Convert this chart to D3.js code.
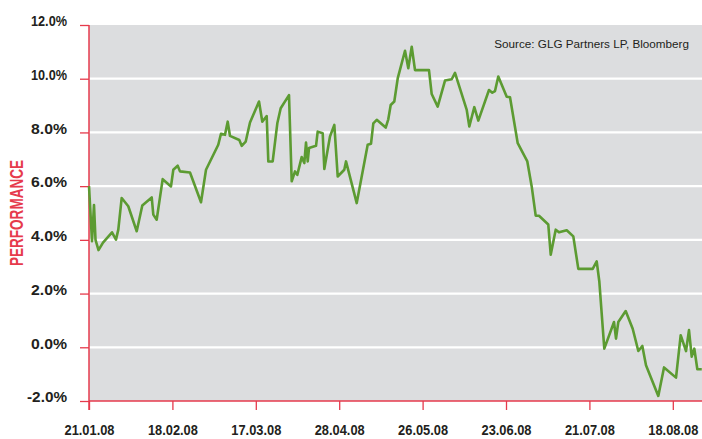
<!DOCTYPE html>
<html>
<head>
<meta charset="utf-8">
<script src="https://cdn.jsdelivr.net/npm/d3@7"></script>
<style>
    body { margin: 0; background: #fff; }
    text { font-family: "Liberation Sans Narrow", "Liberation Sans", Arial, sans-serif; }
</style>
</head>
<body>
<svg id="dessin" width="702" height="439"></svg>
<script>
// position of each point along the trading-day axis
var jours = [0, 0.72, 1.2, 1.56, 2.28, 3.36, 5.52, 6.47, 7.03, 7.84, 9.42, 11.44, 12.78, 15.04, 15.42, 16.23,
    17.67, 19.66, 20.22, 21.27, 21.82, 24.22, 26.86, 28.06, 31.0, 31.65, 32.61, 33.26, 33.81, 36.04, 36.62,
    37.58, 38.61, 40.77, 41.56, 42.61, 43.0, 44.05, 45.16, 45.97, 47.96, 48.61, 49.4, 49.95, 51.0, 51.63,
    52.04, 52.45, 52.76, 54.44, 54.84, 56.04, 56.43, 57.79, 58.83, 59.64, 61.22, 61.63, 64.2, 66.83, 67.63,
    68.18, 69.0, 71.15, 71.77, 72.35, 73.21, 74.03, 75.78, 76.57, 77.39, 78.18, 81.53, 82.18, 83.62, 85.37,
    86.98, 87.77, 90.58, 91.2, 92.4, 93.36, 95.92, 96.71, 97.36, 98.15, 100.17, 100.96, 102.81, 105.11,
    106.16, 107.12, 107.91, 110.14, 110.72, 111.92, 112.71, 114.56, 116.14, 117.34, 120.79, 121.75, 122.37,
    123.57, 125.9, 126.38, 126.93, 128.7, 130.38, 131.73, 132.69, 133.57, 136.52, 137.89, 140.77, 141.89,
    143.17, 143.88, 144.53, 145.16, 145.88, 146.94]

// performance in %
var perf = [6.00, 3.95, 5.30, 4.00, 3.62, 3.90, 4.28, 4.01, 4.38, 5.56, 5.25, 4.32, 5.28, 5.58, 4.94, 4.75,
    6.26, 5.99, 6.61, 6.76, 6.55, 6.51, 5.40, 6.61, 7.54, 7.95, 7.91, 8.40, 7.87, 7.72, 7.50,
    7.66, 8.37, 9.15, 8.40, 8.61, 6.92, 6.92, 8.34, 8.90, 9.39, 6.18, 6.55, 6.42, 7.08, 6.86,
    7.62, 6.92, 7.42, 7.50, 8.03, 7.97, 6.64, 7.85, 8.28, 6.36, 6.61, 6.92, 5.37, 7.54, 7.58,
    8.34, 8.47, 8.18, 8.49, 9.02, 9.15, 10.01, 11.04, 10.39, 11.19, 10.32, 10.32, 9.43, 8.96, 9.93,
    9.98, 10.22, 8.84, 8.22, 8.94, 8.44, 9.58, 9.48, 9.54, 10.08, 9.33, 9.31, 7.60, 6.92,
    5.99, 4.90, 4.90, 4.57, 3.45, 4.38, 4.28, 4.36, 4.13, 2.92, 2.92, 3.20, 2.46,
    -0.05, 0.94, 0.32, 0.94, 1.35, 0.69, -0.14, 0.05, -0.67, -1.81, -0.75, -1.13, 0.45,
    -0.14, 0.64, -0.35, -0.05, -0.82, -0.82]

var ticksX = [0, 20, 40, 60, 80, 100, 120, 140]
var labelsX = ["21.01.08", "18.02.08", "17.03.08", "28.04.08", "26.05.08", "23.06.08", "21.07.08", "18.08.08"]
var ticksY = [-2, 0, 2, 4, 6, 8, 10, 12]

var rouge = "#e63a4c"
var vert = "#5c9b32"

var svg = d3.select("#dessin")

var x = d3.scaleLinear().domain([0, 147]).range([89, 702])
var y = d3.scaleLinear().domain([-2, 12]).range([401, 25])

// fond gris
svg.append("rect")
    .attr("x", x(0))
    .attr("y", y(12))
    .attr("width", x(147) - x(0))
    .attr("height", y(-2) - y(12))
    .style("fill", "#dcdddf")

// lignes de grille blanches
svg.selectAll(".grille")
    .data(ticksY.filter(d => d > -2 && d < 12))
    .enter()
    .append("line")
    .attr("class", "grille")
    .attr("x1", x(0))
    .attr("x2", x(147))
    .attr("y1", d => y(d))
    .attr("y2", d => y(d))
    .style("stroke", "#fff")
    .style("stroke-width", 2.2)

// axe Y
var axeY = svg.append("g")
    .attr("transform", `translate(${x(0)},0)`)
    .call(d3.axisLeft(y).tickValues(ticksY).tickSize(9).tickFormat(d => d.toFixed(1) + "%"))
axeY.select(".domain").remove()
axeY.selectAll(".tick line").style("stroke", rouge).style("stroke-width", 1.3)
axeY.selectAll(".tick text")
    .attr("x", -22)
    .attr("dy", "0.05em")
    .attr("textLength", d => d < 0 ? 40 : 36)
    .attr("lengthAdjust", "spacingAndGlyphs")
    .style("font-size", "15px")
    .style("font-weight", "bold")
    .style("fill", "#231f20")

// axe X
var axeX = svg.append("g")
    .attr("transform", `translate(0,${y(-2)})`)
    .call(d3.axisBottom(x).tickValues(ticksX).tickSize(9).tickFormat((d, i) => labelsX[i]))
axeX.select(".domain").remove()
axeX.selectAll(".tick line").style("stroke", rouge).style("stroke-width", 1.3)
axeX.selectAll(".tick text")
    .attr("y", 24)
    .attr("textLength", 50)
    .attr("lengthAdjust", "spacingAndGlyphs")
    .style("font-size", "14px")
    .style("font-weight", "bold")
    .style("fill", "#231f20")

svg.append("line")
    .attr("x1", x(0)).attr("x2", x(147))
    .attr("y1", y(-2)).attr("y2", y(-2))
    .style("stroke", rouge).style("stroke-width", 1.5)
svg.append("line")
    .attr("x1", x(0)).attr("x2", x(0))
    .attr("y1", y(12)).attr("y2", y(-2) + 9)
    .style("stroke", rouge).style("stroke-width", 1.5)

// courbe
var points = jours.map((j, i) => [j, perf[i]])
svg.append("path")
    .datum(points)
    .attr("d", d3.line().x(d => x(d[0])).y(d => y(d[1])))
    .style("fill", "none")
    .style("stroke", vert)
    .style("stroke-width", 2.6)
    .style("stroke-linejoin", "round")

// titre axe Y
svg.append("text")
    .attr("transform", "translate(23,213) rotate(-90)")
    .attr("text-anchor", "middle")
    .attr("textLength", 106)
    .attr("lengthAdjust", "spacingAndGlyphs")
    .style("font-size", "18px")
    .style("font-weight", "bold")
    .style("fill", rouge)
    .text("PERFORMANCE")

// source
svg.append("text")
    .attr("x", 689)
    .attr("y", 48)
    .attr("text-anchor", "end")
    .style("font-size", "11.7px")
    .style("fill", "#231f20")
    .text("Source: GLG Partners LP, Bloomberg")
</script>
</body>
</html>
